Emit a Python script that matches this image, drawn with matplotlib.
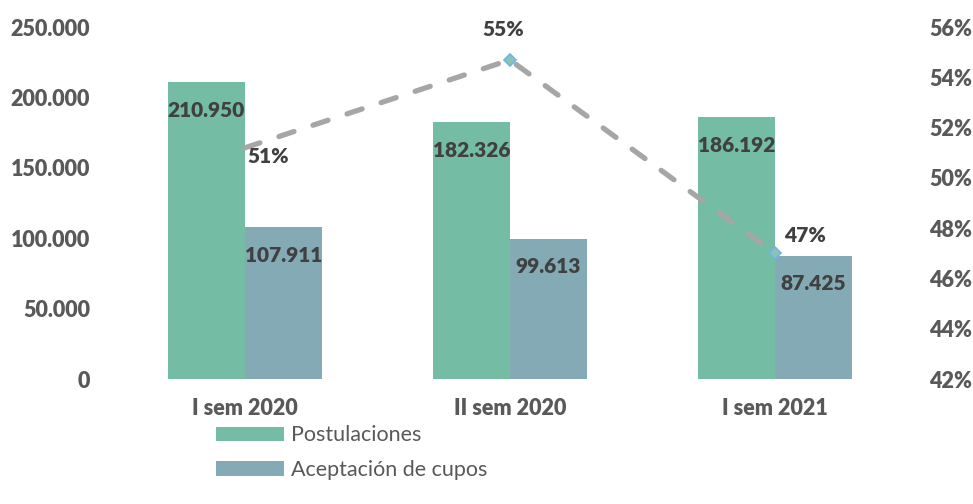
import matplotlib
matplotlib.use('Agg')
import matplotlib.pyplot as plt
import numpy as np

# Data
periodos = ['I sem 2020', 'II sem 2020', 'I sem 2021']
postulaciones = [210950, 182326, 186192]
aceptacion = [107911, 99613, 87425]
tasa = [0.512, 0.547, 0.470]
tasa_labels = ['51%', '55%', '47%']

plt.rcParams['font.family'] = ['Lato', 'DejaVu Sans']

green = '#75BCA4'
blue = '#84AAB5'
label_gray = '#404040'
tick_gray = '#595959'
WEIGHT = 'heavy'

def fmt_miles(v):
    return f'{v:,.0f}'.replace(',', '.')

fig = plt.figure(figsize=(9.73, 5.04), dpi=100)
ax = fig.add_axes([0.1155, 0.248, 0.817, 0.698])

x = np.arange(len(periodos))
w = 0.29
b1 = ax.bar(x - w / 2, postulaciones, w, color=green, label='Postulaciones')
b2 = ax.bar(x + w / 2, aceptacion, w, color=blue, label='Aceptación de cupos')

ax.set_xlim(-0.5, 2.5)
ax.set_ylim(0, 250000)
ax.set_yticks(np.arange(0, 250001, 50000))
ax.set_yticklabels([fmt_miles(v) for v in np.arange(0, 250001, 50000)])
ax.set_xticks(x)
ax.set_xticklabels(periodos)
for s in ax.spines.values():
    s.set_visible(False)
ax.tick_params(length=0, labelsize=15.5, labelcolor=tick_gray)
ax.tick_params(axis='y', pad=16)
ax.tick_params(axis='x', pad=14)
for t in ax.get_xticklabels() + ax.get_yticklabels():
    t.set_fontweight(WEIGHT)

# bar value labels inside, near the top
for bars, vals in [(b1, postulaciones), (b2, aceptacion)]:
    for r, v in zip(bars, vals):
        ax.annotate(fmt_miles(v), (r.get_x() + r.get_width() / 2, v),
                    xytext=(0, -28), textcoords='offset pixels',
                    ha='center', va='center', fontsize=15, fontweight=WEIGHT,
                    color=label_gray)

# secondary axis for the percentage line
ax2 = ax.twinx()
ax2.set_ylim(0.42, 0.56)
ax2.set_yticks(np.arange(0.42, 0.5601, 0.02))
ax2.set_yticklabels([f'{int(round(v * 100))}%' for v in np.arange(0.42, 0.5601, 0.02)])
for s in ax2.spines.values():
    s.set_visible(False)
ax2.tick_params(length=0, labelsize=15.5, labelcolor=tick_gray, pad=16)
for t in ax2.get_yticklabels():
    t.set_fontweight(WEIGHT)

ax2.plot(x, tasa, color='#A6A6A6', lw=3.8, dashes=(3.0, 3.8),
         dash_capstyle='round', zorder=3)
ax2.plot(x[1:], tasa[1:], ls='none', marker='D', ms=6, mfc='#8CC3B0',
         mec='#6FB4E8', mew=1.2, zorder=4)

offsets = [(23, -9), (-7, 30), (30, 18)]
for xi, yi, lab, off in zip(x, tasa, tasa_labels, offsets):
    ax2.annotate(lab, (xi, yi), xytext=off, textcoords='offset pixels',
                 ha='center', va='center', fontsize=15, fontweight=WEIGHT,
                 color=label_gray)

leg = fig.legend(handles=[b1, b2], loc='upper left', bbox_to_anchor=(0.207, 0.186),
                 ncol=1, frameon=False, fontsize=15.5, handlelength=3.15, handleheight=0.65,
                 labelspacing=0.68, handletextpad=0.3, borderpad=0.2)
for t in leg.get_texts():
    t.set_color(tick_gray)

fig.savefig('out.png', dpi=100)
